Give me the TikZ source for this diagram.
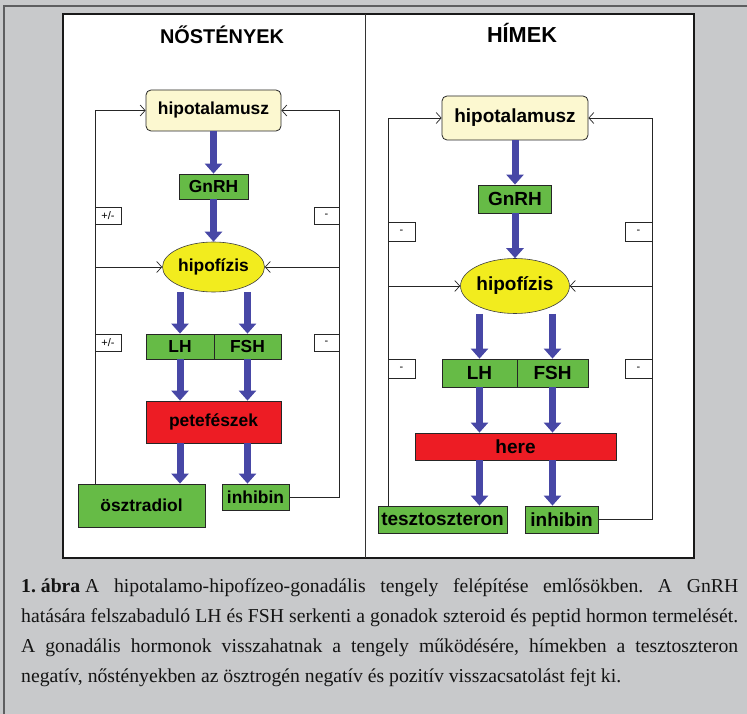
\documentclass[tikz,border=0pt]{standalone}
\usepackage{fontspec}
\setmainfont{Liberation Serif}
\newfontfamily\arialf{Liberation Sans}
\usetikzlibrary{arrows.meta,shapes.geometric,calc}
\definecolor{bggray}{HTML}{C8C9CB}
\definecolor{framegray}{HTML}{5E5E60}
\definecolor{hgreen}{HTML}{66BB46}
\definecolor{hred}{HTML}{ED1C24}
\definecolor{hyellow}{HTML}{F2EC1E}
\definecolor{lyellow}{HTML}{FCF8D0}
\definecolor{arrblue}{HTML}{4747A6}
\tikzset{
  box/.style={draw=black!85, line width=0.8pt, inner sep=0pt, anchor=center},
  ftxt/.style={font=\arialf\bfseries\fontsize{17.4}{20}\selectfont},
  mtxt/.style={font=\arialf\bfseries\fontsize{19}{22}\selectfont},
  greenbox/.style={box, fill=hgreen},
  redbox/.style={box, fill=hred},
  hypbox/.style={box, fill=lyellow, rounded corners=5pt},
  hypoell/.style={ellipse, draw=black!75, line width=0.6pt, fill=hyellow, inner sep=0pt},
  hormone/.style={line width=7pt, draw=arrblue, -{Triangle[length=10pt,width=17pt]}},
  fb/.style={draw=black!85, line width=0.8pt},
  fbtip/.style={fb, -{Straight Barb[length=5pt,width=11pt,line width=0.7pt]}},
  fblabel/.style={draw=black!85, line width=0.8pt, fill=white, inner sep=0pt,
     font=\arialf\fontsize{11}{12}\selectfont},
  captxt/.style={anchor=base west, inner sep=0pt, font=\frenchspacing\fontsize{19.7}{22}\selectfont, text=black!92}
}
\begin{document}
\begin{tikzpicture}[x=1pt,y=-1pt]
\useasboundingbox (0,0) rectangle (747,714);
% background frame
\fill[bggray] (0,0) rectangle (747,714);
\draw[framegray, line width=1.6pt] (4,714) -- (4,6) -- (747,6);
% white panel
\filldraw[fill=white, draw=black!90, line width=2pt] (63,14) rectangle (694,558);
\draw[black!80, line width=1pt] (365,14) -- (365,558);

% ================= FEMALE =================
\node[font=\arialf\bfseries\fontsize{19.9}{22}\selectfont] (titF) at (222,35) {NŐSTÉNYEK};
\node[hypbox, ftxt, minimum width=135pt, minimum height=41pt] (hipF) at (213.5,110.5) {hipotalamusz};
\node[greenbox, ftxt, minimum width=69pt, minimum height=25pt] (gnF) at (213.5,186.5) {GnRH};
\node[hypoell, ftxt, minimum width=102pt, minimum height=50pt] (hypF) at (213.5,267) {hipofízis};
\node[greenbox, ftxt, minimum width=68pt, minimum height=25pt] (lhF) at (180,346.5) {LH};
\node[greenbox, ftxt, minimum width=67pt, minimum height=25pt] (fshF) at (247.5,346.5) {FSH};
\node[redbox, ftxt, minimum width=135pt, minimum height=42pt] (peteF) at (213.5,422) {petefészek};
\node[greenbox, ftxt, minimum width=127pt, minimum height=43pt] (osztF) at (141.5,505.5) {ösztradiol};
\node[greenbox, ftxt, minimum width=67pt, minimum height=26pt] (inhF) at (255.5,497) {inhibin};

\draw[hormone] (hipF.south) -- (gnF.north);
\draw[hormone] (gnF.south) -- (hypF.north);
\draw[hormone] (lhF.north |- hypF.south) -- (lhF.north);
\draw[hormone] (fshF.north |- hypF.south) -- (fshF.north);
\draw[hormone] (lhF.south) -- (lhF.south |- peteF.north);
\draw[hormone] (fshF.south) -- (fshF.south |- peteF.north);
\draw[hormone] (lhF.south |- peteF.south) -- (lhF.south |- osztF.north);
\draw[hormone] (fshF.south |- peteF.south) -- (fshF.south |- inhF.north);

\coordinate (fL) at (95,0);
\coordinate (fR) at (339,0);
\draw[fbtip] (fL |- osztF.north) -- (fL |- hipF.west) -- (hipF.west);
\draw[fbtip] (fL |- hypF.west) -- (hypF.west);
\draw[fbtip] (inhF.east) -- (fR |- inhF.east) -- (fR |- hipF.east) -- (hipF.east);
\draw[fbtip] (fR |- hypF.east) -- (hypF.east);
\node[fblabel, minimum width=26pt, minimum height=17pt] (pmF1) at (108,215.5) {+/-};
\node[fblabel, minimum width=25pt, minimum height=17pt] (mnF1) at (326.5,215.5) {-};
\node[fblabel, minimum width=26pt, minimum height=17pt] (pmF2) at (108,342.5) {+/-};
\node[fblabel, minimum width=25pt, minimum height=17pt] (mnF2) at (326.5,342.5) {-};

% ================= MALE =================
\node[font=\arialf\bfseries\fontsize{21.7}{24}\selectfont] (titM) at (522,33) {HÍMEK};
\node[hypbox, mtxt, minimum width=146pt, minimum height=44pt] (hipM) at (515,118) {hipotalamusz};
\node[greenbox, mtxt, minimum width=73pt, minimum height=28pt] (gnM) at (515,199) {GnRH};
\node[hypoell, mtxt, minimum width=108pt, minimum height=55pt] (hypM) at (515,286) {hipofízis};
\node[greenbox, mtxt, minimum width=75pt, minimum height=28pt] (lhM) at (479.5,373) {LH};
\node[greenbox, mtxt, minimum width=71pt, minimum height=28pt] (fshM) at (552.5,373) {FSH};
\node[redbox, mtxt, minimum width=201pt, minimum height=27pt] (hereM) at (515.5,446.5) {here};
\node[greenbox, mtxt, minimum width=129pt, minimum height=27pt] (teszM) at (442.5,519.5) {tesztoszteron};
\node[greenbox, mtxt, minimum width=73pt, minimum height=27pt] (inhM) at (561.5,519.5) {inhibin};

\draw[hormone] (hipM.south) -- (gnM.north);
\draw[hormone] (gnM.south) -- (hypM.north);
\draw[hormone] (lhM.north |- hypM.south) -- (lhM.north);
\draw[hormone] (fshM.north |- hypM.south) -- (fshM.north);
\draw[hormone] (lhM.south) -- (lhM.south |- hereM.north);
\draw[hormone] (fshM.south) -- (fshM.south |- hereM.north);
\draw[hormone] (lhM.south |- hereM.south) -- (lhM.south |- teszM.north);
\draw[hormone] (fshM.south |- hereM.south) -- (fshM.south |- inhM.north);

\coordinate (mL) at (388,0);
\coordinate (mR) at (652,0);
\draw[fbtip] (mL |- teszM.north) -- (mL |- hipM.west) -- (hipM.west);
\draw[fbtip] (mL |- hypM.west) -- (hypM.west);
\draw[fbtip] (inhM.east) -- (mR |- inhM.east) -- (mR |- hipM.east) -- (hipM.east);
\draw[fbtip] (mR |- hypM.east) -- (hypM.east);
\node[fblabel, minimum width=27pt, minimum height=19pt] (mnM1) at (401.5,231.5) {-};
\node[fblabel, minimum width=27pt, minimum height=19pt] (mnM2) at (638.5,231.5) {-};
\node[fblabel, minimum width=27pt, minimum height=19pt] (mnM3) at (401.5,368.5) {-};
\node[fblabel, minimum width=27pt, minimum height=19pt] (mnM4) at (638.5,368.5) {-};

% ================= CAPTION =================
\node[captxt] (cap1) at (21,592) {\makebox[717pt][s]{\mbox{\textbf{1. ábra} A} hipotalamo-hipofízeo-gonadális tengely felépítése emlősökben. A GnRH}};
\node[captxt] (cap2) at (21,622) {\makebox[717pt][s]{hatására felszabaduló LH és FSH serkenti a gonadok szteroid és peptid hormon termelését.}};
\node[captxt] (cap3) at (21,652) {\makebox[717pt][s]{A gonadális hormonok visszahatnak a tengely működésére, hímekben a tesztoszteron}};
\node[captxt] (cap4) at (21,682) {negatív, nőstényekben az ösztrogén negatív és pozitív visszacsatolást fejt ki.};
\end{tikzpicture}
\end{document}
